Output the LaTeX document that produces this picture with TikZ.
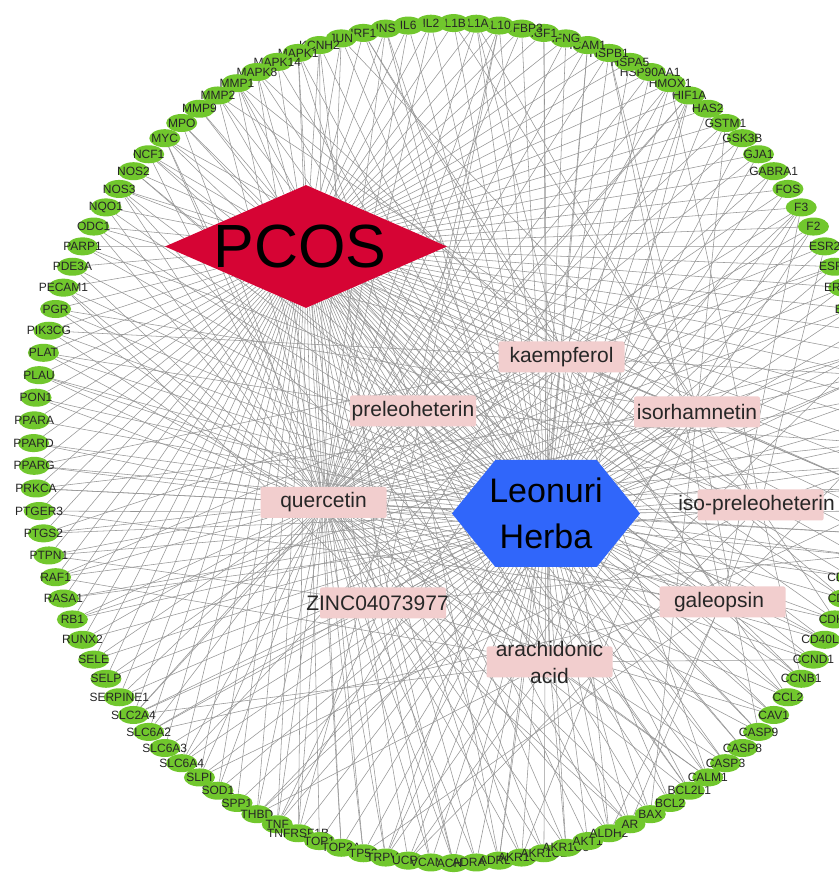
\documentclass[tikz,border=0pt]{standalone}
\usepackage{fontspec}
\setmainfont{Liberation Sans}
\usepackage{tikz}
\usetikzlibrary{shapes.geometric,shapes.symbols,backgrounds,positioning}
\definecolor{genegreen}{RGB}{113,199,45}
\definecolor{pcosred}{RGB}{214,4,52}
\definecolor{herbablue}{RGB}{48,102,250}
\definecolor{cpdpink}{RGB}{242,206,206}
\definecolor{edgegray}{RGB}{150,150,150}

\begin{document}
\begin{tikzpicture}[x=1pt,y=1pt,
	gene/.style={ellipse,fill=genegreen,minimum width=31pt,minimum height=18pt,inner sep=0pt},
	genetxt/.style={font=\fontsize{12}{12}\selectfont,text=black!85,inner sep=0pt},
	cpd/.style={fill=cpdpink,rounded corners=2pt,minimum width=126pt,minimum height=31pt,inner sep=0pt},
	cpdtxt/.style={font=\fontsize{21}{27}\selectfont,text=black!85,align=center,inner sep=0pt},
	link/.style={draw=edgegray,line width=0.55pt}]
\useasboundingbox (0,0) rectangle (838,874);

\begin{scope}[shift={(453.6,430.9)}]
\foreach \nm [count=\i from 0] in {PPARD,PPARG,PRKCA,PTGER3,PTGS2,PTPN1,RAF1,RASA1,RB1,RUNX2,
	SELE,SELP,SERPINE1,SLC2A4,SLC6A2,SLC6A3,SLC6A4,SLPI,SOD1,SPP1,
	THBD,TNF,TNFRSF1B,TOP1,TOP2A,TP53,TRPV1,UCP2,VCAM1,ACHE,
	ADRA1B,ADRB2,AKR1C1,AKR1C2,AKR1C3,AKT1,ALDH2,AR,BAX,BCL2,
	BCL2L1,CALM1,CASP3,CASP8,CASP9,CAV1,CCL2,CCNB1,CCND1,CD40LG,
	CDK2,CDK4,CDKN1A,CHEK1,CHUK,COL1A1,CRP,CTNNB1,CXCL2,CXCL8,
	CYP19A1,DPP4,E2F1,EDN1,EGFR,ERBB2,ESR1,ESR2,F2,F3,
	FOS,GABRA1,GJA1,GSK3B,GSTM1,HAS2,HIF1A,HMOX1,HSP90AA1,HSPA5,
	HSPB1,ICAM1,IFNG,IGF1,IGFBP3,IL10,IL1A,IL1B,IL2,IL6,
	INS,IRF1,JUN,KCNH2,MAPK1,MAPK14,MAPK8,MMP1,MMP2,MMP9,
	MPO,MYC,NCF1,NOS2,NOS3,NQO1,ODC1,PARP1,PDE3A,PECAM1,
	PGR,PIK3CG,PLAT,PLAU,PON1,PPARA}{
	\pgfmathsetmacro{\a}{180+\i*3.10345}
	\node[gene,label={[genetxt]center:\nm}] (g\i) at (\a:420) {};
}
\end{scope}

\node[diamond,fill=pcosred,minimum width=282pt,minimum height=123pt,inner sep=0pt,
	label={[font=\fontsize{61}{61}\selectfont,xshift=-6pt]center:PCOS}] (pcos) at (306,627.5) {};
\node[signal,signal to=east and west,signal pointer angle=102,fill=herbablue,
	minimum width=188pt,minimum height=107pt,inner sep=0pt,
	label={[font=\fontsize{34}{46}\selectfont,align=center]center:Leonuri\\Herba}] (herba) at (546,360.5) {};

\node[cpd,label={[cpdtxt]center:kaempferol}] (kaem) at (561.5,517) {};
\node[cpd,label={[cpdtxt]center:preleoheterin}] (prel) at (413,463) {};
\node[cpd,label={[cpdtxt]center:isorhamnetin}] (isor) at (697,462) {};
\node[cpd,label={[cpdtxt]center:quercetin}] (quer) at (323.5,371.5) {};
\node[cpd,label={[cpdtxt,xshift=-4pt]center:iso-preleoheterin}] (isopre) at (760.5,369) {};
\node[cpd,label={[cpdtxt,xshift=-5.5pt]center:ZINC04073977}] (zinc) at (383,271) {};
\node[cpd,label={[cpdtxt,xshift=-3.5pt]center:galeopsin}] (gale) at (722.5,272) {};
\node[cpd,label={[cpdtxt]center:arachidonic\\acid}] (arach) at (549.5,212) {};

\begin{pgfonlayer}{background}
\fill[white] (0,0) rectangle (838,874);
\foreach \c in {kaem,prel,isor,quer,isopre,zinc,gale,arach}
	\draw[link] (herba) -- (\c);
\foreach \i in {0,...,115}{
	\draw[link] (pcos) -- (g\i);
	\draw[link] (herba) -- (g\i);
	\pgfmathtruncatemacro{\q}{mod(\i,4)}
	\ifnum\q<3 \draw[link] (quer) -- (g\i); \fi
	\pgfmathtruncatemacro{\q}{mod(\i,5)}
	\ifnum\q=1 \draw[link] (kaem) -- (g\i); \fi
	\pgfmathtruncatemacro{\q}{mod(\i,6)}
	\ifnum\q=2 \draw[link] (isor) -- (g\i); \fi
	\pgfmathtruncatemacro{\q}{mod(\i,9)}
	\ifnum\q=4 \draw[link] (prel) -- (g\i); \fi
	\pgfmathtruncatemacro{\q}{mod(\i,10)}
	\ifnum\q=7 \draw[link] (isopre) -- (g\i); \fi
	\pgfmathtruncatemacro{\q}{mod(\i,8)}
	\ifnum\q=5 \draw[link] (zinc) -- (g\i); \fi
	\pgfmathtruncatemacro{\q}{mod(\i,11)}
	\ifnum\q=3 \draw[link] (gale) -- (g\i); \fi
	\pgfmathtruncatemacro{\q}{mod(\i,7)}
	\ifnum\q=6 \draw[link] (arach) -- (g\i); \fi
}
\end{pgfonlayer}
\end{tikzpicture}
\end{document}
